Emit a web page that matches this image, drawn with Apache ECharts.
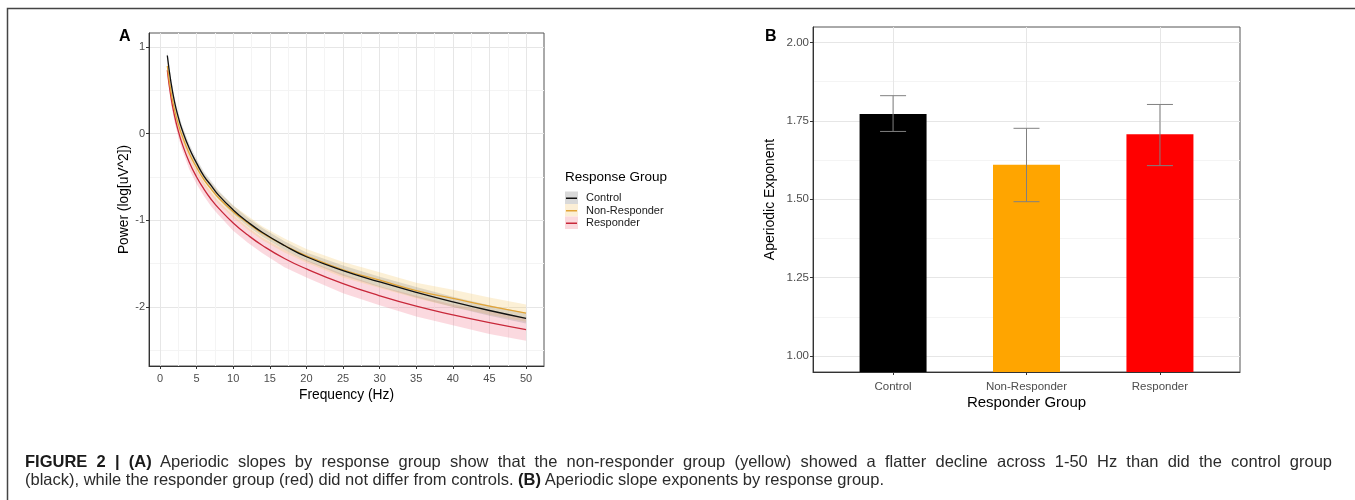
<!DOCTYPE html>
<html>
<head>
<meta charset="utf-8">
<script src="https://cdn.jsdelivr.net/npm/echarts@6/dist/echarts.min.js"></script>
<style>
  html, body { margin: 0; padding: 0; background: #fff; }
  #wrap { position: relative; width: 1355px; height: 500px; }
  #main { width: 1355px; height: 500px; }
  #caption {
    position: absolute; left: 25px; top: 452px; width: 1307px;
    font-family: "Liberation Sans", Arial, sans-serif; font-size: 16.5px;
    line-height: 18px; color: #2b2b2b;
  }
  #caption .l1 { text-align: justify; text-align-last: justify; white-space: nowrap; }
  #caption b { color: #1a1a1a; }
</style>
</head>
<body>
<div id="wrap">
  <div id="main"></div>
  <div id="caption">
    <div class="l1"><b>FIGURE 2 | (A)</b> Aperiodic slopes by response group show that the non-responder group (yellow) showed a flatter decline across 1-50 Hz than did the control group</div>
    <div>(black), while the responder group (red) did not differ from controls. <b>(B)</b> Aperiodic slope exponents by response group.</div>
  </div>
</div>
<script>
// panel A - spectra per group (mean and half width of the ribbon)
const freq = [1, 1.5, 2, 2.5, 3, 4, 5, 6, 7, 8, 10, 12, 14, 17, 20, 25, 30, 35, 40, 45, 50];
const ctrlMean = [0.90, 0.59, 0.36, 0.19, 0.05, -0.17, -0.34, -0.49, -0.60, -0.71, -0.88, -1.02, -1.14, -1.29, -1.42, -1.58, -1.71, -1.83, -1.94, -2.04, -2.13];
const nonRespMean = [0.78, 0.48, 0.27, 0.11, -0.02, -0.23, -0.39, -0.53, -0.64, -0.74, -0.90, -1.03, -1.15, -1.29, -1.41, -1.57, -1.69, -1.81, -1.90, -1.99, -2.07];
const respMean = [0.73, 0.42, 0.20, 0.03, -0.11, -0.33, -0.50, -0.64, -0.76, -0.86, -1.03, -1.17, -1.29, -1.44, -1.56, -1.73, -1.87, -1.99, -2.09, -2.18, -2.26];
const ctrlHalf = [0.05, 0.05, 0.05, 0.05, 0.05, 0.05, 0.05, 0.05, 0.05, 0.05, 0.05, 0.05, 0.05, 0.05, 0.05, 0.06, 0.06, 0.06, 0.06, 0.06, 0.06];
const nonRespHalf = [0.06, 0.06, 0.06, 0.06, 0.06, 0.06, 0.07, 0.07, 0.07, 0.07, 0.07, 0.08, 0.08, 0.08, 0.08, 0.09, 0.09, 0.09, 0.10, 0.10, 0.10];
const respHalf = [0.07, 0.07, 0.07, 0.07, 0.07, 0.08, 0.08, 0.08, 0.08, 0.08, 0.09, 0.09, 0.09, 0.10, 0.10, 0.11, 0.11, 0.12, 0.12, 0.13, 0.13];

// panel B - aperiodic exponent per group
const groups = ['Control', 'Non-Responder', 'Responder'];
const exponent = [1.772, 1.610, 1.707];
const errLow = [1.716, 1.492, 1.607];
const errHigh = [1.830, 1.726, 1.802];

// tick values
const freqTicks = [0, 5, 10, 15, 20, 25, 30, 35, 40, 45, 50];
const freqMinor = [2.5, 7.5, 12.5, 17.5, 22.5, 27.5, 32.5, 37.5, 42.5, 47.5];
const powerTicks = [-2, -1, 0, 1];
const powerMinor = [-2.5, -1.5, -0.5, 0.5];
const groupTicks = [1, 2, 3];
const expTicks = [1.00, 1.25, 1.50, 1.75, 2.00];
const expMinor = [1.125, 1.375, 1.625, 1.875];

const font = 'Liberation Sans, Arial, sans-serif';
const chart = echarts.init(document.getElementById('main'));

function pairs(xs, ys) {
  return xs.map((x, i) => [x, ys[i]]);
}

// confidence ribbon drawn as one polygon through the axis scales
function ribbon(name, mean, half, fill) {
  const rows = freq.map((f, i) => [f, +(mean[i] - half[i]).toFixed(3), +(mean[i] + half[i]).toFixed(3)]);
  return {
    name: name, type: 'custom', xAxisIndex: 0, yAxisIndex: 0, silent: true, clip: true, z: 2,
    data: rows, encode: { x: 0, y: [1, 2] },
    renderItem: function (params, api) {
      if (params.dataIndex !== 0) return null;
      const upper = rows.map(r => api.coord([r[0], r[2]]));
      const lower = rows.map(r => api.coord([r[0], r[1]])).reverse();
      return { type: 'polygon', shape: { points: upper.concat(lower) }, style: { fill: fill } };
    }
  };
}

function curve(name, mean, color) {
  return {
    name: name, type: 'line', xAxisIndex: 0, yAxisIndex: 0,
    data: pairs(freq, mean), smooth: true, symbol: 'none',
    itemStyle: { color: color }, lineStyle: { color: color, width: 1.3 }, z: 3
  };
}

function mainAxis(opts) {
  return Object.assign({
    type: 'value',
    axisLine: { show: true, onZero: false, lineStyle: { color: '#333', width: 1 } },
    axisTick: { show: true, length: 3, lineStyle: { color: '#333' } },
    axisLabel: { color: '#4d4d4d', fontSize: 11, fontFamily: font },
    splitLine: { show: true, lineStyle: { color: '#e6e6e6', width: 1 } },
    nameLocation: 'middle',
    nameMoveOverlap: false,
    nameTextStyle: { color: '#000', fontSize: 13.8, fontFamily: font }
  }, opts);
}

function minorAxis(opts, values) {
  return Object.assign({
    type: 'value',
    axisLine: { show: false, onZero: false },
    axisTick: { show: false, customValues: values },
    axisLabel: { show: false },
    splitLine: { show: true, lineStyle: { color: '#f4f4f4', width: 1 } }
  }, opts);
}

const option = {
  animation: false,
  textStyle: { fontFamily: font },
  grid: [
    { left: 149, top: 33, width: 395, height: 333, show: true, borderColor: '#555', borderWidth: 1, outerBoundsMode: 'none' },
    { left: 813, top: 27, width: 427, height: 345, show: true, borderColor: '#555', borderWidth: 1, outerBoundsMode: 'none' }
  ],
  xAxis: [
    mainAxis({
      gridIndex: 0, min: -1.5, max: 52.45, position: 'bottom',
      axisTick: { show: true, length: 3, customValues: freqTicks, lineStyle: { color: '#333' } },
      axisLabel: { customValues: freqTicks, color: '#4d4d4d', fontSize: 11, margin: 7 },
      name: 'Frequency (Hz)', nameGap: 22
    }),
    minorAxis({ gridIndex: 0, min: -1.5, max: 52.45, position: 'top' }, freqMinor),
    mainAxis({
      gridIndex: 1, min: 0.4, max: 3.6, position: 'bottom',
      axisTick: { show: true, length: 3, customValues: groupTicks, lineStyle: { color: '#333' } },
      axisLabel: { customValues: groupTicks, color: '#4d4d4d', fontSize: 11.5, margin: 9, formatter: v => groups[Math.round(v) - 1] },
      name: 'Responder Group', nameGap: 23, nameTextStyle: { color: '#000', fontSize: 15, fontFamily: font }
    })
  ],
  yAxis: [
    mainAxis({
      gridIndex: 0, min: -2.68, max: 1.16, position: 'left',
      axisTick: { show: true, length: 3, customValues: powerTicks, lineStyle: { color: '#333' } },
      axisLabel: { customValues: powerTicks, color: '#4d4d4d', fontSize: 11, margin: 4 },
      name: 'Power (log[uV^2])', nameGap: 18, nameRotate: 90
    }),
    minorAxis({ gridIndex: 0, min: -2.68, max: 1.16, position: 'right' }, powerMinor),
    mainAxis({
      gridIndex: 1, min: 0.949, max: 2.049, position: 'left',
      axisTick: { show: true, length: 3, customValues: expTicks, lineStyle: { color: '#333' } },
      axisLabel: { customValues: expTicks, color: '#4d4d4d', fontSize: 11.5, margin: 4, formatter: v => v.toFixed(2) },
      name: 'Aperiodic Exponent', nameGap: 36, nameRotate: 90,
      nameTextStyle: { color: '#000', fontSize: 14, fontFamily: font }
    }),
    minorAxis({ gridIndex: 1, min: 0.949, max: 2.049, position: 'right' }, expMinor)
  ],
  legend: {
    data: ['Control', 'Non-Responder', 'Responder'],
    orient: 'vertical', left: 566, top: 192, padding: 0,
    icon: 'rect', itemWidth: 11, itemHeight: 1.5, itemGap: 0,
    selectedMode: false,
    textStyle: { fontSize: 11, lineHeight: 12.5, color: '#1a1a1a', fontFamily: font, padding: [0, 0, 0, 4] }
  },
  graphic: [
    // outer figure frame
    { type: 'polyline', shape: { points: [[7.5, 500], [7.5, 8.5], [1355, 8.5]] }, style: { stroke: '#444', lineWidth: 1.5, fill: null } },
    { type: 'text', left: 119, top: 29, style: { text: 'A', fontSize: 16, fontWeight: 'bold', fontFamily: font, fill: '#000' } },
    { type: 'text', left: 765, top: 29, style: { text: 'B', fontSize: 16, fontWeight: 'bold', fontFamily: font, fill: '#000' } },
    { type: 'text', left: 565, top: 170, style: { text: 'Response Group', fontSize: 13.5, fontFamily: font, fill: '#000' } },
    // legend key backgrounds (ribbon colours)
    { type: 'rect', z: 0, shape: { x: 565, y: 191.5, width: 13, height: 12.5 }, style: { fill: '#d9d9d9' } },
    { type: 'rect', z: 0, shape: { x: 565, y: 204, width: 13, height: 12.5 }, style: { fill: '#fcefd6' } },
    { type: 'rect', z: 0, shape: { x: 565, y: 216.5, width: 13, height: 12.5 }, style: { fill: '#fbd9dd' } }
  ],
  series: [
    ribbon('Responder band', respMean, respHalf, 'rgba(240,120,140,0.28)'),
    ribbon('Non-Responder band', nonRespMean, nonRespHalf, 'rgba(245,205,120,0.30)'),
    ribbon('Control band', ctrlMean, ctrlHalf, 'rgba(120,120,120,0.22)'),
    curve('Responder', respMean, '#c8283a'),
    curve('Non-Responder', nonRespMean, '#e2a436'),
    curve('Control', ctrlMean, '#111111'),
    {
      name: 'Aperiodic Exponent', type: 'bar', xAxisIndex: 2, yAxisIndex: 2,
      barWidth: 67,
      data: groups.map((g, i) => ({ value: [i + 1, exponent[i]], itemStyle: { color: ['#000000', '#FFA500', '#FF0000'][i] } }))
    },
    {
      name: 'error', type: 'custom', xAxisIndex: 2, yAxisIndex: 2, z: 4,
      data: groups.map((g, i) => [i + 1, errLow[i], errHigh[i]]),
      encode: { x: 0, y: [1, 2] },
      renderItem: function (params, api) {
        const x = api.value(0);
        const lo = api.coord([x, api.value(1)]);
        const hi = api.coord([x, api.value(2)]);
        const w = 13;
        const st = { stroke: '#808080', lineWidth: 1 };
        return {
          type: 'group',
          children: [
            { type: 'line', shape: { x1: lo[0], y1: lo[1], x2: hi[0], y2: hi[1] }, style: st },
            { type: 'line', shape: { x1: hi[0] - w, y1: hi[1], x2: hi[0] + w, y2: hi[1] }, style: st },
            { type: 'line', shape: { x1: lo[0] - w, y1: lo[1], x2: lo[0] + w, y2: lo[1] }, style: st }
          ]
        };
      }
    }
  ]
};

chart.setOption(option);
</script>
</body>
</html>
